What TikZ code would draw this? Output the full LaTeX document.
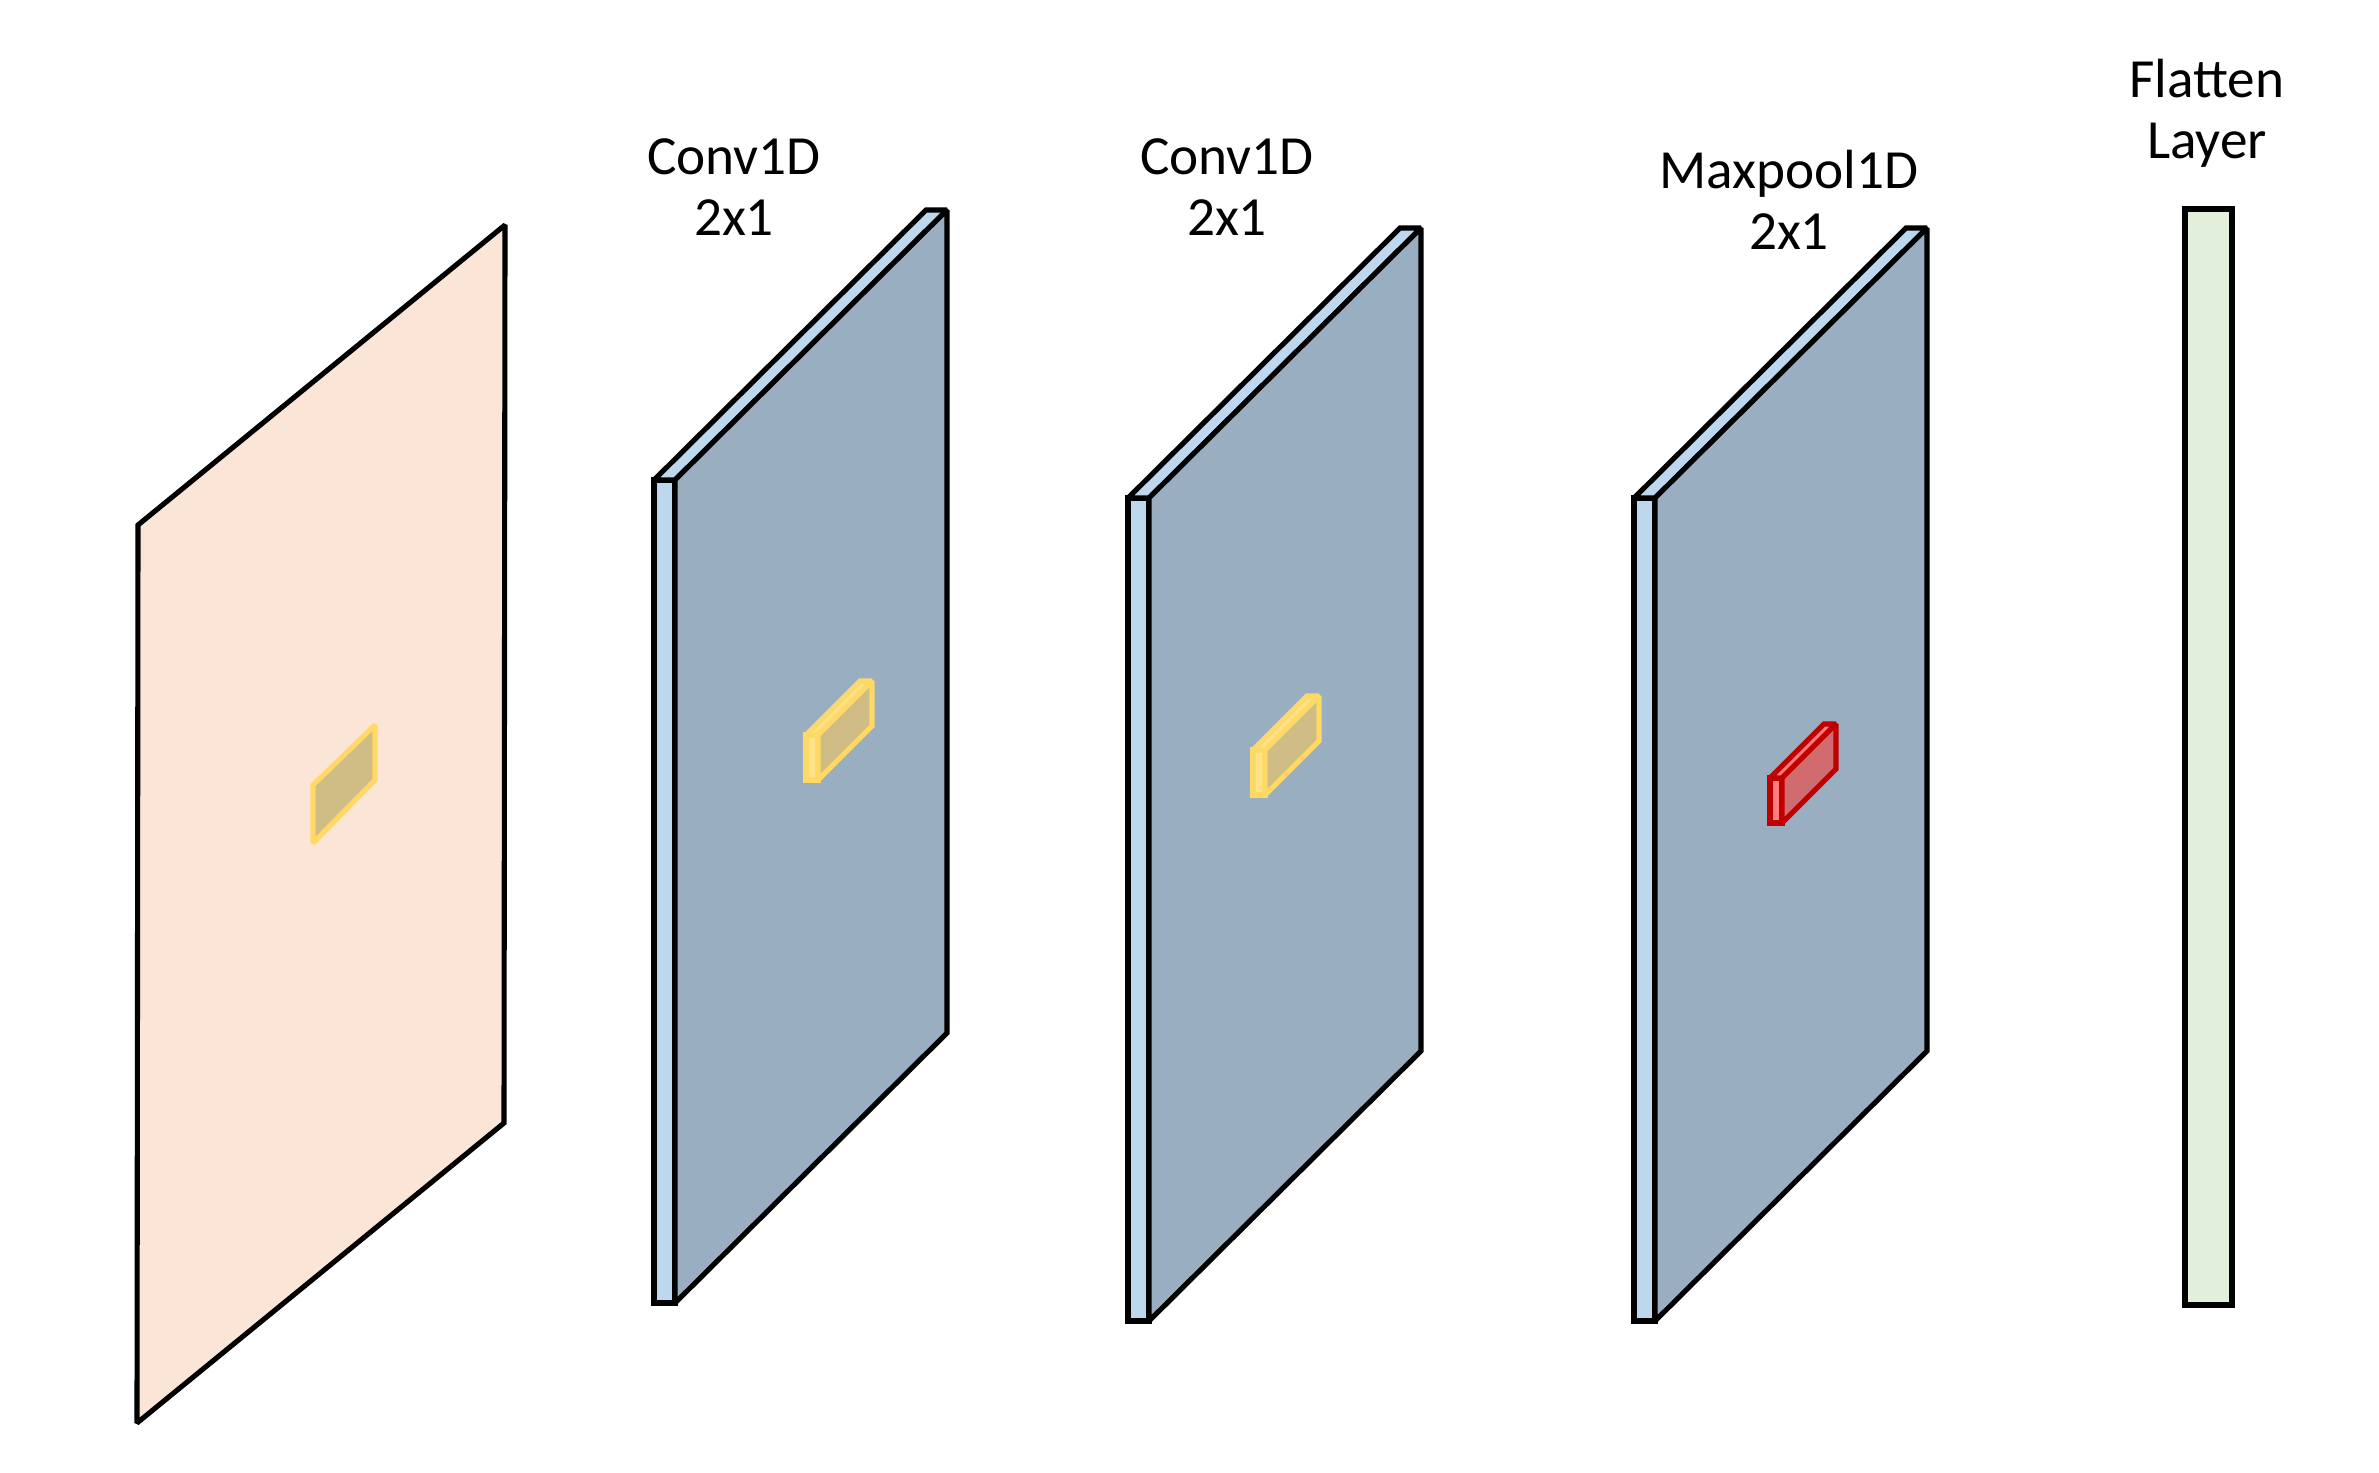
\documentclass[tikz,border=0pt]{standalone}
\usepackage{fontspec}
\setmainfont{Carlito}
\usetikzlibrary{calc}

\definecolor{inputfill}{HTML}{FBE5D6}
\definecolor{layerblue}{HTML}{9AAEC2}
\definecolor{edgeblue}{HTML}{BDD7EE}
\definecolor{flatgreen}{HTML}{E2EFDA}
\definecolor{kernelline}{HTML}{FFD966}
\definecolor{kernelfill}{HTML}{CFBD85}
\definecolor{kernelside}{HTML}{FFE38A}
\definecolor{poolline}{HTML}{C00000}
\definecolor{poolfill}{HTML}{D06B70}
\definecolor{poolside}{HTML}{FF7F80}

\begin{document}
\begin{tikzpicture}[x=0.01cm, y=-0.01cm, line width=1.45pt, miter limit=2,
    layer/.style={draw=black, fill=layerblue},
    edge/.style={draw=black, fill=edgeblue},
    layertext/.style={font=\fontsize{15.7}{17.3}\selectfont, align=center}]
    
    \useasboundingbox (0,0) rectangle (2379,1473);
    
    \coordinate (in1) at (138,525);
    \coordinate (in2) at (505,225);
    \coordinate (in3) at (504,1123);
    \coordinate (in4) at (137,1423);
    
    % input map
    \filldraw [fill=inputfill] (in1) -- (in2) -- (in3) -- (in4) -- cycle;
    \filldraw [draw=kernelline, fill=kernelfill] (313,785) -- (375,725) -- (375,780) -- (313,843) -- cycle;
    
    % conv and pool maps
    \foreach \x/\y in {675/480, 1149/498, 1655/498} {
        \filldraw [edge] (\x-21,\y) rectangle (\x,\y+823);
        \filldraw [edge] (\x-21,\y) -- (\x,\y) -- (\x+272,\y-270) -- (\x+251,\y-270) -- cycle;
        \filldraw [layer] (\x,\y) -- (\x+272,\y-270) -- (\x+272,\y+553) -- (\x,\y+823) -- cycle;
    }
    
    % kernels
    \foreach \x/\y/\ln/\sd/\fr in {818/735/kernelline/kernelside/kernelfill, 1265/750/kernelline/kernelside/kernelfill, 1782/778/poolline/poolside/poolfill} {
        \filldraw [draw=\ln, fill=\sd] (\x-12,\y) rectangle (\x,\y+45);
        \filldraw [draw=\ln, fill=\sd] (\x-12,\y) -- (\x,\y) -- (\x+54,\y-54) -- (\x+42,\y-54) -- cycle;
        \filldraw [draw=\ln, fill=\fr] (\x,\y) -- (\x+54,\y-54) -- (\x+54,\y-9) -- (\x,\y+45) -- cycle;
    }
    
    % flatten
    \filldraw [fill=flatgreen] (2185,209) rectangle (2232,1305);
    
    \node[layertext] (conv1) at (734,187) {Conv1D\\2x1};
    \node[layertext] (conv2) at (1227,187) {Conv1D\\2x1};
    \node[layertext] (pool) at (1789,200) {Maxpool1D\\2x1};
    \node[layertext] (flat) at (2207,113) {Flatten\\Layer};
\end{tikzpicture}
\end{document}
